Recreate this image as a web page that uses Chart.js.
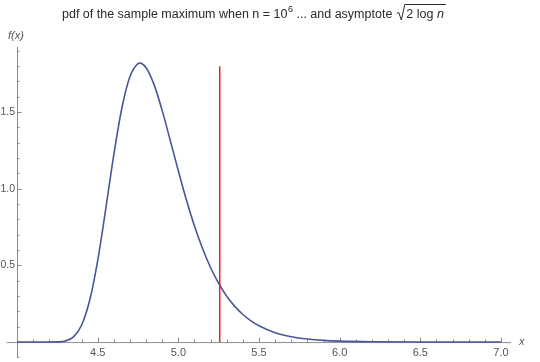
<!DOCTYPE html>
<html lang="en">
<head>
    <meta charset="UTF-8">
    <title>pdf of the sample maximum</title>
    <script src="https://cdn.jsdelivr.net/npm/chart.js"></script>
    <style>
        body { margin: 0; padding: 0; background: #fff; }
        canvas { display: block; }
    </style>
</head>
<body>
    <canvas id="maxPdf" width="540" height="362"></canvas>

    <script>
        // values
        const xValues = [4.0, 4.1, 4.2, 4.25, 4.3, 4.35, 4.4, 4.45, 4.5, 4.55, 4.6, 4.65, 4.7, 4.75, 4.76, 4.8, 4.85,
                         4.9, 4.95, 5.0, 5.05, 5.1, 5.15, 5.2, 5.25, 5.3, 5.35, 5.4, 5.45, 5.5, 5.6, 5.7, 5.8,
                         5.9, 6.0, 6.2, 6.5, 7.0];
        const pdfValues = [0, 0, 0.0001, 0.001, 0.007, 0.034, 0.110, 0.271, 0.532, 0.869, 1.223, 1.527, 1.732, 1.817, 1.820, 1.790, 1.678,
                           1.510, 1.315, 1.116, 0.927, 0.757, 0.610, 0.485, 0.383, 0.299, 0.233, 0.180, 0.138, 0.106, 0.061, 0.035, 0.020,
                           0.011, 0.006, 0.0018, 0.0003, 0];
        const asymptoteX = 5.2565;      // sqrt(2 log 10^6)
        const asymptoteTop = 1.8;

        const xTickValues = [4.5, 5.0, 5.5, 6.0, 6.5, 7.0];
        const xTickLabels = ['4.5', '5.0', '5.5', '6.0', '6.5', '7.0'];
        const yTickValues = [0.5, 1.0, 1.5];
        const yTickLabels = ['0.5', '1.0', '1.5'];

        const FONT = '"Liberation Sans", Arial, Helvetica, sans-serif';

        // Mathematica-style axes: crossing at (4, 0), ticks pointing inward
        const axesPlugin = {
            id: 'mmaAxes',
            beforeDatasetsDraw(chart) {
                const ctx = chart.ctx;
                const xs = chart.scales.x, ys = chart.scales.y;
                const area = chart.chartArea;
                const y0 = ys.getPixelForValue(0);
                const x0 = xs.getPixelForValue(4.0);
                ctx.save();
                ctx.strokeStyle = '#8c8c8c';
                ctx.lineWidth = 1;
                ctx.beginPath();
                ctx.moveTo(area.left, y0 + 0.5);
                ctx.lineTo(area.right, y0 + 0.5);
                ctx.moveTo(x0 + 0.5, area.top);
                ctx.lineTo(x0 + 0.5, area.bottom);
                // x ticks
                for (let i = 41; i <= 70; i++) {
                    const v = i / 10;
                    const px = Math.round(xs.getPixelForValue(v)) + 0.5;
                    const len = (i % 5 === 0) ? 4.5 : 2.5;
                    ctx.moveTo(px, y0);
                    ctx.lineTo(px, y0 - len);
                }
                // y ticks
                for (let i = -1; i <= 19; i++) {
                    if (i === 0) continue;
                    const v = i / 10;
                    const py = Math.round(ys.getPixelForValue(v)) + 0.5;
                    const len = (i % 5 === 0) ? 4.5 : 2.5;
                    ctx.moveTo(x0, py);
                    ctx.lineTo(x0 + len, py);
                }
                ctx.stroke();

                ctx.fillStyle = '#555';
                ctx.font = '11px ' + FONT;
                ctx.textAlign = 'center';
                ctx.textBaseline = 'middle';
                xTickValues.forEach((v, i) => {
                    ctx.fillText(xTickLabels[i], xs.getPixelForValue(v), y0 + 10.5);
                });
                ctx.font = '10.5px ' + FONT;
                ctx.textAlign = 'right';
                yTickValues.forEach((v, i) => {
                    ctx.fillText(yTickLabels[i], x0 - 2, ys.getPixelForValue(v));
                });

                ctx.font = 'italic 11px ' + FONT;
                ctx.textAlign = 'left';
                ctx.fillText('f(x)', 8, 36);
                ctx.fillText('x', 519, y0);
                ctx.restore();
            },
            afterDraw(chart) {
                // title: pdf of the sample maximum when n = 10^6 ... and asymptote sqrt(2 log n)
                const ctx = chart.ctx;
                ctx.save();
                ctx.fillStyle = '#2a2a2a';
                ctx.strokeStyle = '#2a2a2a';
                ctx.textBaseline = 'alphabetic';
                ctx.textAlign = 'left';
                const base = 17.5;
                let x = 62;
                ctx.font = '12.5px ' + FONT;
                let s = 'pdf of the sample maximum when n = 10';
                ctx.fillText(s, x, base);
                x += ctx.measureText(s).width + 0.5;
                ctx.font = '9px ' + FONT;
                ctx.fillText('6', x, base - 6);
                x += ctx.measureText('6').width;
                ctx.font = '12.5px ' + FONT;
                s = ' ... and asymptote ';
                ctx.fillText(s, x, base);
                x += ctx.measureText(s).width;
                // radical sign
                const radStart = x + 1;
                ctx.lineWidth = 1;
                ctx.beginPath();
                ctx.moveTo(radStart, base - 4);
                ctx.lineTo(radStart + 2, base - 5);
                ctx.lineTo(radStart + 4.5, base + 2.5);
                ctx.lineTo(radStart + 8, base - 13);
                const inner = radStart + 9.5;
                s = '2 log ';
                ctx.fillText(s, inner, base);
                let w = ctx.measureText(s).width;
                ctx.font = 'italic 12.5px ' + FONT;
                ctx.fillText('n', inner + w, base);
                w += ctx.measureText('n').width;
                ctx.lineTo(inner + w + 2, base - 13);
                ctx.stroke();
                ctx.restore();
            }
        };

        const curvePoints = xValues.map((x, i) => ({ x: x, y: pdfValues[i] }));
        const asymptotePoints = [{ x: asymptoteX, y: 0 }, { x: asymptoteX, y: asymptoteTop }];

        new Chart(document.getElementById('maxPdf').getContext('2d'), {
            type: 'line',
            data: {
                datasets: [{
                    data: asymptotePoints,
                    borderColor: '#e8231f',
                    borderWidth: 1.5,
                    pointRadius: 0,
                    tension: 0
                }, {
                    data: curvePoints,
                    borderColor: '#4a5699',
                    borderWidth: 1.6,
                    pointRadius: 0,
                    cubicInterpolationMode: 'monotone'
                }]
            },
            options: {
                responsive: false,
                animation: false,
                layout: {
                    padding: { left: 6.7, right: 29, top: 47, bottom: 4.6 }
                },
                scales: {
                    x: { type: 'linear', min: 3.936, max: 7.062, display: false },
                    y: { type: 'linear', min: -0.1, max: 1.925, display: false }
                },
                plugins: {
                    legend: { display: false },
                    title: { display: false },
                    tooltip: { enabled: false }
                }
            },
            plugins: [axesPlugin]
        });
    </script>
</body>
</html>
